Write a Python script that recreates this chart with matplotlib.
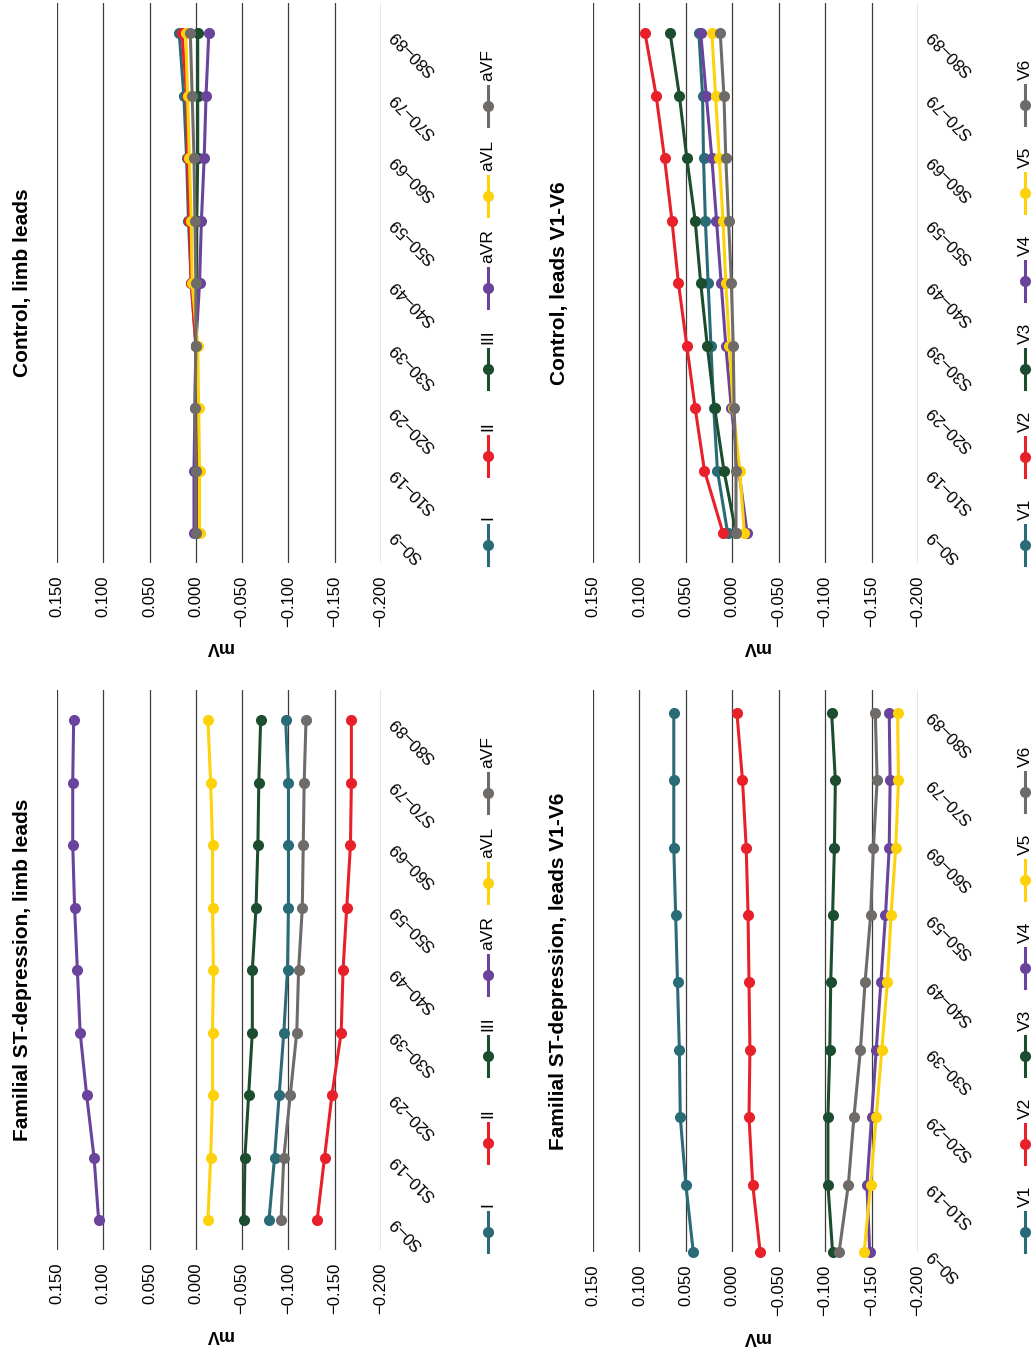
import matplotlib
matplotlib.use("Agg")
import matplotlib.pyplot as plt

plt.rcParams['font.family'] = ['Liberation Sans', 'DejaVu Sans']

# age groups, S0-9 ... S80-89
categories = ['S0–9', 'S10–19', 'S20–29', 'S30–39', 'S40–49',
              'S50–59', 'S60–69', 'S70–79', 'S80–89']
value_ticks = [0.150, 0.100, 0.050, 0.000, -0.050, -0.100, -0.150, -0.200]
value_labels = ['0.150', '0.100', '0.050', '0.000', '−0.050', '−0.100', '−0.150', '−0.200']

limb_leads = ['I', 'II', 'III', 'aVR', 'aVL', 'aVF']
chest_leads = ['V1', 'V2', 'V3', 'V4', 'V5', 'V6']
colors = ['#2a6b78', '#e8202a', '#1b4d2e', '#6a449c', '#fdd20a', '#6e6b69']

# Familial ST-depression, limb leads (mV)
fam_I = [-0.079, -0.085, -0.090, -0.095, -0.099, -0.100, -0.100, -0.100, -0.097]
fam_II = [-0.131, -0.139, -0.147, -0.157, -0.159, -0.163, -0.167, -0.168, -0.168]
fam_III = [-0.052, -0.053, -0.057, -0.061, -0.061, -0.065, -0.067, -0.068, -0.070]
fam_aVR = [0.105, 0.110, 0.118, 0.125, 0.128, 0.131, 0.133, 0.133, 0.132]
fam_aVL = [-0.013, -0.016, -0.018, -0.018, -0.019, -0.018, -0.018, -0.016, -0.013]
fam_aVF = [-0.092, -0.095, -0.102, -0.109, -0.111, -0.115, -0.116, -0.117, -0.119]

# Familial ST-depression, leads V1-V6
fam_V1 = [0.042, 0.050, 0.056, 0.057, 0.059, 0.061, 0.063, 0.063, 0.063]
fam_V2 = [-0.030, -0.022, -0.018, -0.019, -0.018, -0.017, -0.015, -0.011, -0.005]
fam_V3 = [-0.108, -0.103, -0.103, -0.105, -0.106, -0.108, -0.110, -0.111, -0.107]
fam_V4 = [-0.148, -0.145, -0.150, -0.155, -0.160, -0.165, -0.169, -0.170, -0.169]
fam_V5 = [-0.142, -0.149, -0.155, -0.161, -0.167, -0.171, -0.176, -0.179, -0.178]
fam_V6 = [-0.115, -0.125, -0.131, -0.138, -0.143, -0.149, -0.152, -0.156, -0.154]

# Control, limb leads
ctl_I = [-0.001, 0.000, 0.000, 0.000, 0.005, 0.008, 0.010, 0.013, 0.018]
ctl_II = [-0.002, -0.001, 0.000, 0.000, 0.005, 0.007, 0.009, 0.010, 0.015]
ctl_III = [0.000, 0.000, 0.000, 0.000, -0.001, -0.001, -0.002, -0.002, -0.002]
ctl_aVR = [0.002, 0.002, 0.001, 0.000, -0.004, -0.006, -0.009, -0.011, -0.014]
ctl_aVL = [-0.004, -0.004, -0.003, -0.002, 0.004, 0.005, 0.007, 0.009, 0.011]
ctl_aVF = [0.000, 0.000, 0.001, 0.000, 0.000, 0.001, 0.002, 0.004, 0.006]

# Control, leads V1-V6
ctl_V1 = [0.005, 0.016, 0.020, 0.023, 0.026, 0.029, 0.031, 0.032, 0.036]
ctl_V2 = [0.010, 0.030, 0.040, 0.049, 0.058, 0.065, 0.073, 0.082, 0.094]
ctl_V3 = [-0.004, 0.009, 0.019, 0.027, 0.034, 0.040, 0.049, 0.057, 0.067]
ctl_V4 = [-0.016, -0.007, 0.001, 0.007, 0.012, 0.017, 0.022, 0.028, 0.034]
ctl_V5 = [-0.013, -0.008, -0.001, 0.003, 0.007, 0.010, 0.014, 0.018, 0.022]
ctl_V6 = [-0.004, -0.004, -0.002, -0.001, 0.001, 0.004, 0.007, 0.009, 0.013]

W, H = 1033, 1348
fig = plt.figure(figsize=(W / 100, H / 100), dpi=100)


def px_axes(x0, y0, x1, y1):
    # pixel box (from top-left) -> axes
    return fig.add_axes([x0 / W, 1 - y1 / H, (x1 - x0) / W, (y1 - y0) / H])


# overlay in pixel coordinates for titles, axis names and legends
ov = fig.add_axes([0, 0, 1, 1], zorder=5)
ov.set_xlim(0, W)
ov.set_ylim(H, 0)
ov.axis('off')
ov.patch.set_alpha(0)

panels = [
    # (title, series, names, axes box, ylim, legend y positions)
    ('Familial ST-depression, limb leads',
     [fam_I, fam_II, fam_III, fam_aVR, fam_aVL, fam_aVF], limb_leads,
     (57, 690, 381, 1250), (-0.48, 8.48), [1232, 1143, 1056, 975, 883, 793]),
    ('Familial ST-depression, leads V1-V6',
     [fam_V1, fam_V2, fam_V3, fam_V4, fam_V5, fam_V6], chest_leads,
     (593, 690, 918, 1252), (0, 8.34), [1232, 1144, 1056, 968, 880, 792]),
    ('Control, limb leads',
     [ctl_I, ctl_II, ctl_III, ctl_aVR, ctl_aVL, ctl_aVF], limb_leads,
     (57, 3, 381, 563), (-0.48, 8.48), [545, 456, 369, 288, 196, 106]),
    ('Control, leads V1-V6',
     [ctl_V1, ctl_V2, ctl_V3, ctl_V4, ctl_V5, ctl_V6], chest_leads,
     (593, 3, 918, 563), (-0.48, 8.48), [545, 457, 369, 281, 193, 105]),
]

pos = list(range(len(categories)))

for title, series, names, box, ylim, leg_y in panels:
    x0, y0, x1, y1 = box
    ax = px_axes(x0, y0, x1, y1)
    ax.set_xlim(0.150, -0.200)
    ax.set_ylim(*ylim)
    for s, c in zip(series, colors):
        ax.plot(s, pos, color=c, lw=2.2, marker='o', ms=8,
                mec=c, mew=0, clip_on=False)
    ax.set_xticks(value_ticks)
    ax.set_xticklabels(value_labels, rotation=90, va='top', fontsize=12)
    ax.grid(axis='x', color='#3c3c3c', lw=0.9)
    ax.set_axisbelow(True)
    ax.set_yticks(pos)
    ax.set_yticklabels(categories, fontsize=12)
    ax.tick_params(axis='x', length=0, pad=9)
    ax.tick_params(axis='y', length=0, left=False, right=False,
                   labelleft=False, labelright=True, pad=8)
    plt.setp(ax.get_yticklabels(), rotation=135, ha='right', va='center',
             rotation_mode='anchor')
    for sp in ax.spines.values():
        sp.set_visible(False)

    cy = (y0 + y1) / 2
    cx = (x0 + x1) / 2
    ov.text(x0 - 34, cy, title, rotation=90, ha='center', va='center',
            fontsize=15, fontweight='bold')
    ov.text(cx, y1 + 84, 'mV', rotation=180,
            ha='center', va='center', fontsize=13, fontweight='bold')

    # legend drawn vertically, reading bottom to top
    lx = x1 + 107
    for name, c, ly in zip(names, colors, leg_y):
        ov.plot([lx, lx], [ly - 20, ly + 20], color=c, lw=2.2)
        ov.plot([lx], [ly], marker='o', ms=8, color=c, mew=0)
        ov.text(lx, ly - 25, name, rotation=90, ha='left', va='center',
                rotation_mode='anchor', fontsize=12.5)

fig.savefig('out.png', dpi=100)
